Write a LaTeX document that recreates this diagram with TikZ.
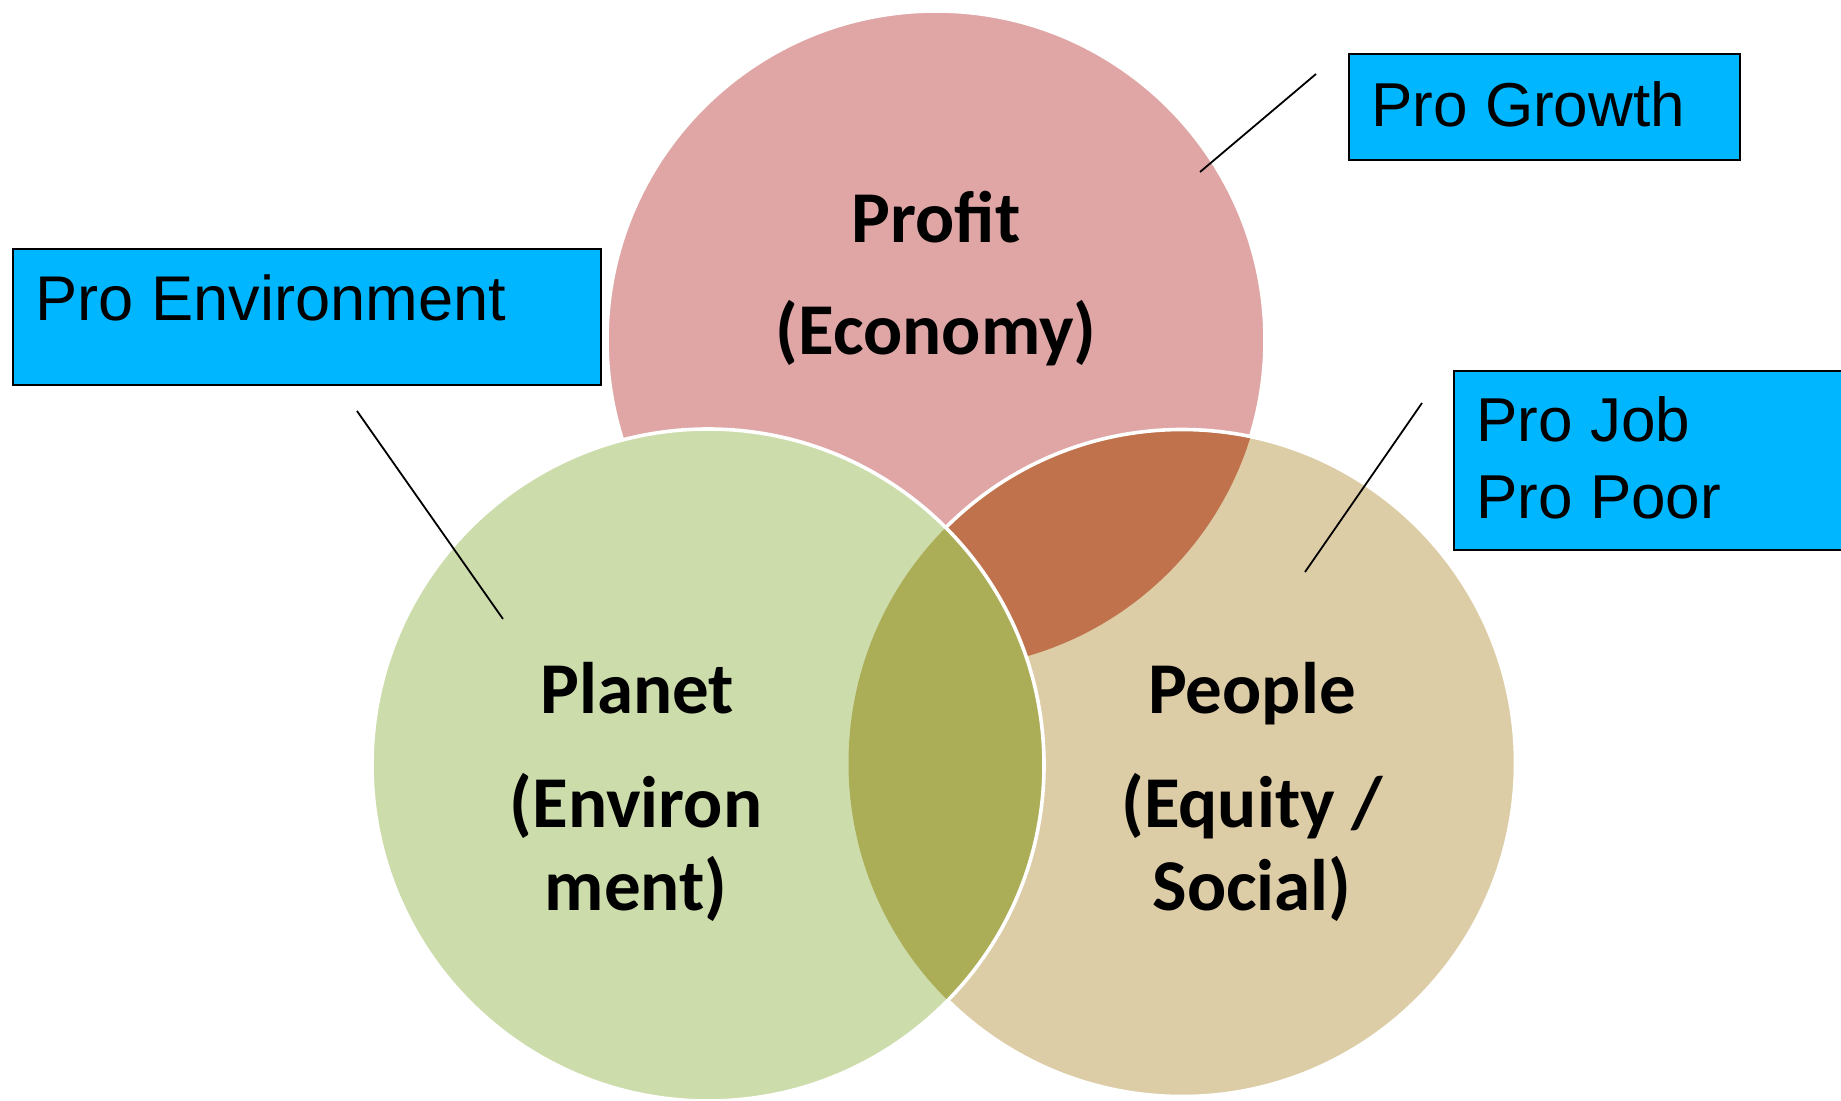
\documentclass[tikz,border=0pt]{standalone}
\usepackage{fontspec}
\setmainfont{Carlito}
\newfontfamily\arialf{Liberation Sans}
\definecolor{profitc}{HTML}{E0A6A6}
\definecolor{planetc}{HTML}{CDDCAB}
\definecolor{peoplec}{HTML}{DDCDA7}
\definecolor{brownc}{HTML}{BF724B}
\definecolor{olivec}{HTML}{ABAD57}
\definecolor{boxc}{HTML}{00B7FF}
\begin{document}
\begin{tikzpicture}[x=0.5pt,y=-0.5pt,
  lbl/.style={font=\bfseries\fontsize{36.5}{40}\selectfont, inner sep=0pt, anchor=base},
  probox/.style={draw=black, line width=1pt, fill=boxc, inner sep=0pt, anchor=north west},
  boxtxt/.style={font=\arialf\fontsize{31}{36}\selectfont, inner sep=0pt, anchor=base west},
  leader/.style={draw=black, line width=0.9pt},
  rim/.style={draw=white, line width=1.8pt}]
\useasboundingbox (0,0) rectangle (1841,1101);
\fill[white] (0,0) rectangle (1841,1101);
\def\rpro{164.5pt}
\def\rpla{168pt}
\def\rpeo{166.75pt}
\coordinate (cpro) at (936,340);
\coordinate (cpla) at (708,765);
\coordinate (cpeo) at (1182,763);
% Profit
\fill[profitc] (cpro) circle[radius=\rpro];
\draw[rim] (cpro) circle[radius=\rpro];
% People
\fill[peoplec] (cpeo) circle[radius=\rpeo];
\begin{scope}
  \clip (cpeo) circle[radius=\rpeo];
  \fill[brownc] (cpro) circle[radius=\rpro];
\end{scope}
\draw[rim] (cpeo) circle[radius=\rpeo];
% Planet
\fill[planetc] (cpla) circle[radius=\rpla];
\begin{scope}
  \clip (cpla) circle[radius=\rpla];
  \fill[olivec] (cpeo) circle[radius=\rpeo];
\end{scope}
\draw[rim] (cpla) circle[radius=\rpla];
% circle labels
\node[lbl] (profit1) at (936,243) {Profit};
\node[lbl] (profit2) at (936,355) {(Economy)};
\node[lbl] (planet1) at (637,713) {Planet};
\node[lbl] (planet2) at (636,827) {(Environ};
\node[lbl] (planet3) at (636,910) {ment)};
\node[lbl] (people1) at (1252,713) {People};
\node[lbl] (people2) at (1252,827) {(Equity /};
\node[lbl] (people3) at (1252,910) {Social)};
% boxes
\node[probox, minimum width=195.5pt, minimum height=53pt] (growthbox) at (1348,53) {};
\node[boxtxt] (growthtxt) at (1371,127) {Pro Growth};
\node[probox, minimum width=294pt, minimum height=68pt] (envbox) at (12,248) {};
\node[boxtxt, font=\arialf\fontsize{31.6}{36}\selectfont] (envtxt) at (35,321) {Pro Environment};
\node[probox, minimum width=205pt, minimum height=89.5pt] (jobbox) at (1453,370) {};
\node[boxtxt] (jobtxt) at (1476,441) {Pro Job};
\node[boxtxt] (poortxt) at (1476,518) {Pro Poor};
% leader lines
\coordinate (g1) at (1316,74);
\coordinate (g2) at (1200,172);
\coordinate (e1) at (357,411);
\coordinate (e2) at (503,619);
\coordinate (j1) at (1422,403);
\coordinate (j2) at (1305,572);
\draw[leader] (g1) -- (g2);
\draw[leader] (e1) -- (e2);
\draw[leader] (j1) -- (j2);
\end{tikzpicture}
\end{document}
